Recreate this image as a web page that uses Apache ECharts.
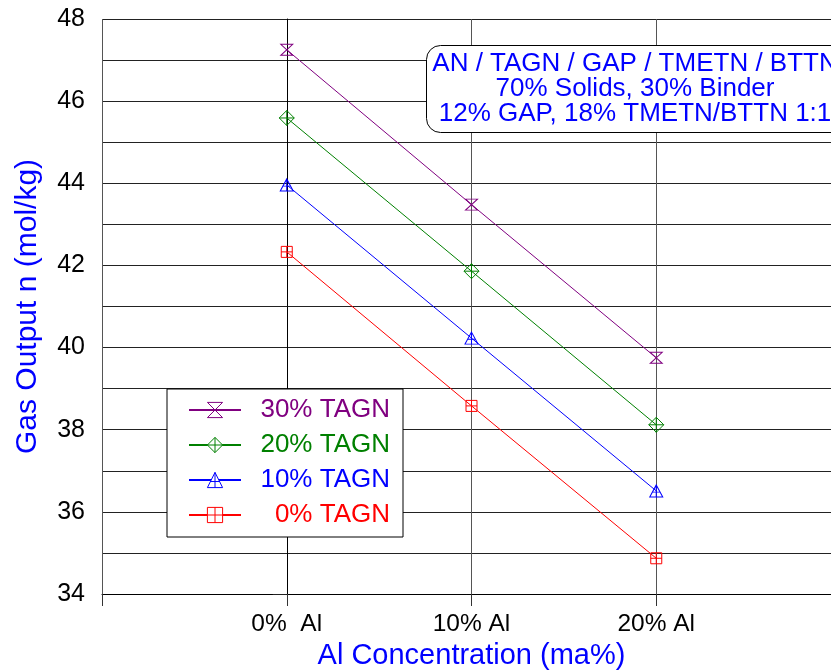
<!DOCTYPE html>
<html><head><meta charset="utf-8">
<script src="https://cdn.jsdelivr.net/npm/echarts@6/dist/echarts.min.js"></script>
<style>html,body{margin:0;padding:0;background:#fff}#c{width:831px;height:671px}</style>
</head><body><div id="c"></div>
<script>
const xLabels = ['0%  Al', '10% Al', '20% Al'];
const xPositions = [0, 1, 2];
const seriesNames = ['30% TAGN', '20% TAGN', '10% TAGN', '0% TAGN'];
const tagn30 = [47.25, 43.48, 39.75];
const tagn20 = [45.59, 41.86, 38.12];
const tagn10 = [43.96, 40.23, 36.51];
const tagn0 = [42.33, 38.58, 34.87];
const noteLines = ['AN / TAGN / GAP / TMETN / BTTN', '70% Solids, 30% Binder', '12% GAP, 18% TMETN/BTTN 1:1'];

const colors = ['#800080', '#008000', '#0000ff', '#ff0000'];
const symbols = [
  'path://M0,0 L10,0 L0,10 L10,10 Z',
  'path://M5,0 L10,5 L5,10 L0,5 Z M5,0 L5,10 M0,5 L10,5',
  'path://M5,0 L10,10 L0,10 Z M5,0 L5,10 M2,6 L8,6',
  'path://M0,0 L10,0 L10,10 L0,10 Z M5,0 L5,10 M0,5 L10,5'
];
const sizes = [[12, 11], [15, 15], [13, 12], [11, 11]];
const values = [tagn30, tagn20, tagn10, tagn0];
const FONT = '"Liberation Sans", Arial, sans-serif';

const chart = echarts.init(document.getElementById('c'));
chart.setOption({
  animation: false,
  backgroundColor: '#fff',
  textStyle: { fontFamily: FONT },
  grid: { left: 102, top: 19, width: 739, height: 575, containLabel: false, outerBoundsMode: 'none' },
  xAxis: {
    type: 'value', min: -1, max: 3, interval: 1,
    name: 'Al Concentration (ma%)', nameLocation: 'middle', nameGap: 45,
    nameTextStyle: { color: '#0000ff', fontSize: 29, fontFamily: FONT },
    axisLine: { show: true, lineStyle: { color: '#000', width: 1 } },
    axisTick: { show: true, length: 12, lineStyle: { color: '#333' } },
    axisLabel: { color: '#000', fontSize: 24.5, margin: 18, fontFamily: FONT,
      formatter: v => { const i = xPositions.indexOf(v); return i >= 0 ? xLabels[i] : ''; } },
    splitLine: { show: true, lineStyle: { color: '#555', width: 1 } }
  },
  yAxis: {
    type: 'value', min: 34, max: 48, interval: 2,
    name: 'Gas Output n (mol/kg)', nameLocation: 'middle', nameGap: 59, nameRotate: 90,
    nameTextStyle: { color: '#0000ff', fontSize: 30, fontFamily: FONT },
    axisLine: { show: true, lineStyle: { color: '#000', width: 1 } },
    axisTick: { show: true, length: 14, lineStyle: { color: '#222' } },
    minorTick: { show: true, splitNumber: 2, length: 7, lineStyle: { color: '#222' } },
    axisLabel: { color: '#000', fontSize: 25, margin: 17, fontFamily: FONT },
    splitLine: { show: true, lineStyle: { color: '#222', width: 1 } },
    minorSplitLine: { show: true, lineStyle: { color: '#222', width: 1 } }
  },
  legend: {
    orient: 'vertical', left: 167, top: 389,
    width: 233,
    backgroundColor: '#fff', borderColor: '#000', borderWidth: 1,
    padding: [8, 13, 9, 21],
    itemWidth: 52, itemHeight: 19, itemGap: 9,
    data: seriesNames.map((n, i) => ({ name: n, textStyle: { color: colors[i] },
      itemStyle: { color: '#fff', borderColor: colors[i], borderWidth: 1 } })),
    formatter: n => '{r|' + n + '}',
    textStyle: { fontSize: 26, fontFamily: FONT, padding: [0, 0, 0, 10],
      rich: { r: { width: 134, align: 'right', fontSize: 26, fontFamily: FONT } } }
  },
  graphic: [
    { type: 'rect', left: 426, top: 45, z: 100,
      shape: { width: 430, height: 87, r: 14 },
      style: { fill: '#fff', stroke: '#000', lineWidth: 1 } },
    { type: 'text', x: 635, y: 89, z: 101,
      style: { text: noteLines.join('\n'), fill: '#0000ff', font: '26px ' + FONT,
        align: 'center', verticalAlign: 'middle', lineHeight: 25 } }
  ],
  series: seriesNames.map((n, i) => ({
    name: n, type: 'line',
    data: values[i].map((v, j) => [xPositions[j], v]),
    symbol: symbols[i], symbolSize: sizes[i], symbolKeepAspect: false,
    showSymbol: true,
    lineStyle: { color: colors[i], width: 1 },
    itemStyle: { color: 'none', borderColor: colors[i], borderWidth: 1 },
    emphasis: { disabled: true }
  }))
});
</script></body></html>
